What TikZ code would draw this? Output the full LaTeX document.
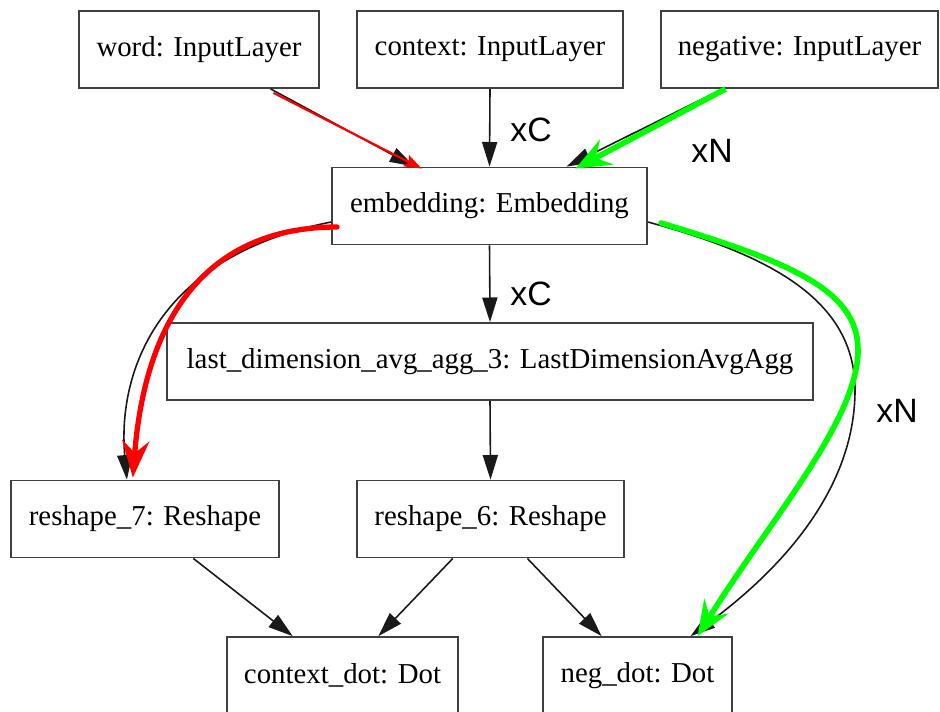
\documentclass[tikz,border=0pt]{standalone}
\usepackage{fontspec}
\setmainfont{Liberation Serif}
\setsansfont{Liberation Sans}
\usetikzlibrary{arrows.meta,calc}
\begin{document}
\begin{tikzpicture}[x=0.01cm,y=-0.01cm,
  layer/.style={draw=black!75, line width=0.5pt, fill=white, inner sep=0pt,
    minimum height=0.77cm, font=\fontsize{8.2}{10}\selectfont},
  edge/.style={draw=black!90, line width=0.45pt,
    -{Triangle[length=7pt,width=4.3pt]}},
  mult/.style={font=\sffamily\fontsize{9.6}{11}\selectfont, inner sep=0pt},
  redthin/.style={draw=red, line width=0.6pt,
    -{Stealth[length=5pt,width=3.6pt,inset=1pt]}},
  redthick/.style={draw=red, line width=1.5pt,
    -{Stealth[length=10.5pt,width=7.7pt,inset=3.5pt]}},
  greenthick/.style={draw=green, line width=1.6pt,
    -{Stealth[length=10pt,width=8pt,inset=3.5pt]}},
]
\clip (0,0) rectangle (940,711);
\fill[white] (0,0) rectangle (940,711);

% layers
\node[layer, minimum width=2.40cm] (word) at (199,49.5)   {word: InputLayer};
\node[layer, minimum width=2.66cm] (ctx)  at (490,49.5)   {context: InputLayer};
\node[layer, minimum width=2.77cm] (neg)  at (799.5,49.5) {negative: InputLayer};
\node[layer, minimum width=3.15cm] (emb)  at (489.5,206)  {embedding: Embedding};
\node[layer, minimum width=6.46cm] (agg)  at (490,361.5)  {last\_dimension\_avg\_agg\_3: LastDimensionAvgAgg};
\node[layer, minimum width=2.68cm] (rsa)  at (145,519)    {reshape\_7: Reshape};
\node[layer, minimum width=2.67cm] (rsb)  at (490.5,519)  {reshape\_6: Reshape};
\node[layer, minimum width=2.31cm] (cdot) at (342.5,675.5) {context\_dot: Dot};
\node[layer, minimum width=1.89cm] (ndot) at (637.5,675.5) {neg\_dot: Dot};

% multiplicity labels
\node[mult] (xc1) at (531,130) {xC};
\node[mult] (xc2) at (531,294) {xC};
\node[mult] (xn1) at (712,151) {xN};
\node[mult] (xn2) at (897,411) {xN};

% plain graph edges
\draw[edge] ($(word.south west)!0.796!(word.south east)$) -- ($(emb.north west)!0.263!(emb.north east)$);
\draw[edge] (ctx.south) -- (emb.north);
\draw[edge] ($(neg.south west)!0.224!(neg.south east)$) -- ($(emb.north west)!0.743!(emb.north east)$);
\draw[edge] (emb.south) -- (agg.north);
\draw[edge] (agg.south) -- (rsb.north);
\draw[edge] ($(emb.west)+(0,16)$) .. controls (150,258) and (118,380) .. ($(rsa.north west)!0.433!(rsa.north east)$);
\draw[edge] ($(emb.east)+(0,16)$) .. controls (770,255) and (855,300) .. (855,390)
  .. controls (855,490) and (780,570) .. ($(ndot.north west)!0.778!(ndot.north east)$);
\draw[edge] ($(rsa.south west)!0.679!(rsa.south east)$) -- ($(cdot.north west)!0.286!(cdot.north east)$);
\draw[edge] ($(rsb.south west)!0.36!(rsb.south east)$) -- ($(cdot.north west)!0.654!(cdot.north east)$);
\draw[edge] ($(rsb.south west)!0.637!(rsb.south east)$) -- ($(ndot.north west)!0.312!(ndot.north east)$);

% highlighted paths
\draw[redthin] ($(word.south west)!0.808!(word.south east)+(0,4)$) -- ($(emb.north west)!0.286!(emb.north east)+(0,2)$);
\draw[redthick, line cap=round] ($(emb.west)+(6,21)$) .. controls (205,227) and (145,320) .. ($(rsa.north west)!0.455!(rsa.north east)+(0,-2)$);
\draw[greenthick] ($(neg.south west)!0.235!(neg.south east)$) -- ($(emb.north west)!0.771!(emb.north east)+(0,2)$);
\draw[greenthick, line cap=round] ($(emb.east)+(13,17)$) .. controls (790,262) and (858,290) .. (858,350)
  .. controls (858,420) and (770,520) .. ($(ndot.north west)!0.815!(ndot.north east)$);
\end{tikzpicture}
\end{document}
